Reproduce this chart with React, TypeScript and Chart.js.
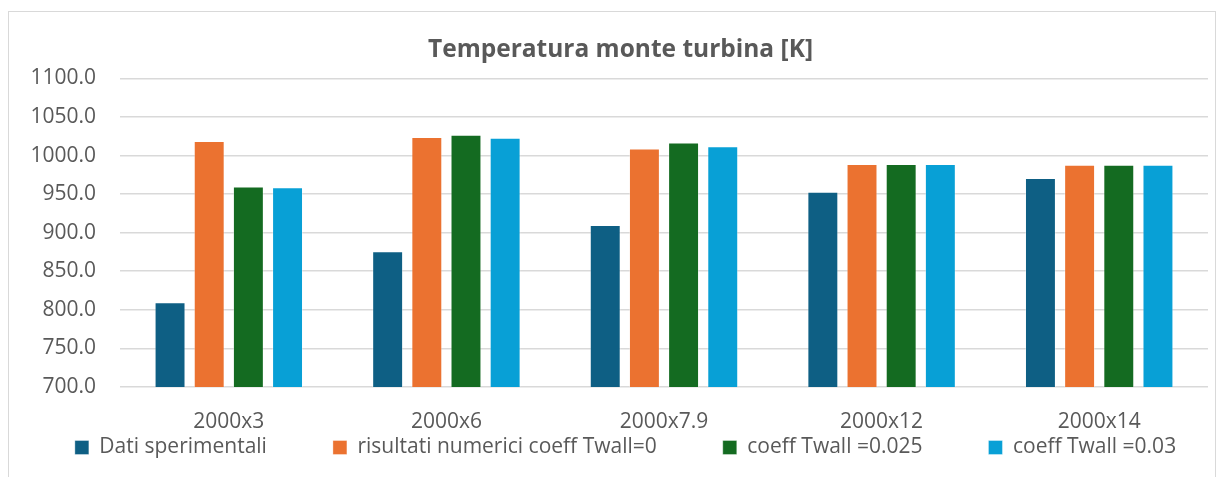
import React, { useEffect, useRef } from "react";
import { Chart, registerables } from "chart.js";

Chart.register(...registerables);

const categories = ["2000x3", "2000x6", "2000x7.9", "2000x12", "2000x14"];
const datiSperimentali = [810, 876, 910, 953, 971];
const coeff0 = [1019, 1024, 1009, 989, 988];
const coeff0025 = [960, 1027, 1017, 989, 988];
const coeff003 = [959, 1023, 1012, 989, 988];
const seriesLabels = [
  "Dati sperimentali",
  "risultati numerici coeff Twall=0",
  "coeff Twall =0.025",
  "coeff Twall =0.03",
];
const seriesColors = ["#0e5f84", "#eb7230", "#146b21", "#08a0d6"];
const yMin = 700;
const yMax = 1100;
const yStep = 50;

const FONT = "'Open Sans', 'Noto Sans', sans-serif";
const LEGEND_PAD = 66;
const LEGEND_H = 44;
const LEGEND_ITEM_OFFSET = 4;
const LEGEND_SHIFT_X = 17;
const TITLE_SHIFT_X = 12;
const EXTRA = 300;

// keeps the wide horizontal spacing of the legend without its tall vertical padding
const layoutTweaks = {
  id: "layoutTweaks",
  afterInit(chart: any) {
    const lg = chart.legend;
    if (lg) {
      const proto = Object.getPrototypeOf(lg);
      lg.fit = function () {
        const mw = this.maxWidth;
        this.maxWidth = mw + EXTRA * 2;
        proto.fit.call(this);
        this.maxWidth = mw;
        this.width = Math.min(this.width, mw);
        if (this.isHorizontal()) this.height = LEGEND_H;
      };
      lg.draw = function () {
        const t = this.top;
        const l = this.left;
        const r = this.right;
        this.top = t - LEGEND_PAD + LEGEND_ITEM_OFFSET;
        this.left = l - EXTRA + LEGEND_SHIFT_X;
        this.right = r + EXTRA + LEGEND_SHIFT_X;
        proto.draw.call(this);
        this.top = t;
        this.left = l;
        this.right = r;
      };
    }
    const tb = chart.titleBlock;
    if (tb) {
      const tproto = Object.getPrototypeOf(tb);
      tb.draw = function () {
        const l = this.left;
        const r = this.right;
        this.left = l + TITLE_SHIFT_X;
        this.right = r + TITLE_SHIFT_X;
        tproto.draw.call(this);
        this.left = l;
        this.right = r;
      };
    }
  },
};

export default function App() {
  const ref = useRef<HTMLCanvasElement | null>(null);

  useEffect(() => {
    if (!ref.current) return;
    const values = [datiSperimentali, coeff0, coeff0025, coeff003];
    const chart = new Chart(ref.current, {
      type: "bar",
      data: {
        labels: categories,
        datasets: values.map((v, i) => ({
          label: seriesLabels[i],
          data: v,
          backgroundColor: seriesColors[i],
          borderColor: "rgba(255,255,255,0.35)",
          borderWidth: 1,
          categoryPercentage: 0.72,
          barPercentage: 0.79,
        })),
      },
      plugins: [layoutTweaks],
      options: {
        animation: false,
        responsive: false,
        maintainAspectRatio: false,
        layout: { padding: { left: 0, right: 7, top: 0, bottom: 0 } },
        plugins: {
          title: {
            display: true,
            text: "Temperatura monte turbina [K]",
            color: "#595959",
            font: { family: FONT, size: 24.5, weight: "bold" },
            padding: { top: 23, bottom: 14 },
          },
          legend: {
            position: "bottom",
            labels: {
              color: "#595959",
              font: { family: FONT, size: 21 },
              boxWidth: 14,
              boxHeight: 14,
              padding: LEGEND_PAD,
            },
          },
          tooltip: { enabled: false },
        },
        scales: {
          x: {
            afterFit: (scale: any) => {
              scale.height = 46;
            },
            grid: { display: false, drawTicks: false },
            border: { display: false },
            ticks: {
              color: "#595959",
              font: { family: FONT, size: 21 },
              padding: 22,
              maxRotation: 0,
            },
          },
          y: {
            min: yMin,
            max: yMax,
            afterFit: (scale: any) => {
              scale.width = 111;
            },
            grid: { color: "#d9d9d9", lineWidth: 1.6, drawTicks: false },
            border: { display: false },
            ticks: {
              stepSize: yStep,
              color: "#595959",
              font: { family: FONT, size: 21 },
              padding: 24,
              callback: (v: any) => Number(v).toFixed(1),
            },
          },
        },
      },
    });
    return () => chart.destroy();
  }, []);

  return (
    <div
      style={{
        marginTop: 3,
        width: 1206,
        height: 470,
        border: "1px solid #d9d9d9",
        boxSizing: "content-box",
        background: "#fff",
      }}
    >
      <canvas ref={ref} width={1206} height={465} style={{ display: "block" }} />
    </div>
  );
}
